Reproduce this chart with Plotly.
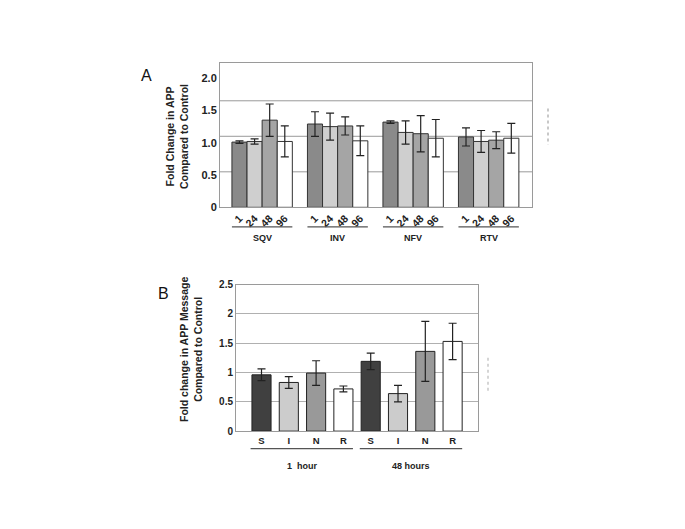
import plotly.graph_objects as go

# ---------------- Data ----------------
# Panel A
a_drugs = ["SQV", "INV", "NFV", "RTV"]
a_times = ["1", "24", "48", "96"]
a_values = {
    "1":  [1.01, 1.29, 1.32, 1.09],
    "24": [1.02, 1.25, 1.16, 1.02],
    "48": [1.35, 1.26, 1.14, 1.04],
    "96": [1.02, 1.03, 1.07, 1.07],
}
a_errors = {
    "1":  [0.02, 0.19, 0.02, 0.14],
    "24": [0.04, 0.21, 0.18, 0.17],
    "48": [0.25, 0.14, 0.28, 0.13],
    "96": [0.24, 0.23, 0.29, 0.23],
}
a_colors = {"1": "#8a8a8a", "24": "#cfcfcf", "48": "#a5a5a5", "96": "#ffffff"}
a_tickvals = [0, 0.5, 1.0, 1.5, 2.0]
a_ticktext = ["0", "0.5", "1.0", "1.5", "2.0"]
a_grid_levels = [0.55, 1.1, 1.65]

# Panel B
b_groups = ["1  hour", "48 hours"]
b_labels = ["S", "I", "N", "R"]
b_values = [0.96, 0.83, 0.99, 0.72, 1.19, 0.64, 1.36, 1.53]
b_errors = [0.10, 0.10, 0.21, 0.05, 0.14, 0.14, 0.51, 0.31]
b_colors = ["#404040", "#cccccc", "#999999", "#ffffff"]
b_tickvals = [0, 0.5, 1, 1.5, 2, 2.5]

FONT = "Arial, Liberation Sans, sans-serif"
W, H = 685, 529

fig = go.Figure()

# ---------- Panel A bars ----------
slots_per_group = len(a_times) + 1
a_positions_all = []
a_ticklabels_all = []
for j, t in enumerate(a_times):
    xs = [g * slots_per_group + j for g in range(len(a_drugs))]
    fig.add_trace(go.Bar(
        x=xs, y=a_values[t], width=1.0,
        marker=dict(color=a_colors[t], line=dict(color="#333333", width=1)),
        error_y=dict(type="data", array=a_errors[t], color="#222222",
                     thickness=1.2, width=4),
        xaxis="x", yaxis="y", showlegend=False,
    ))
for g in range(len(a_drugs)):
    for j, t in enumerate(a_times):
        a_positions_all.append(g * slots_per_group + j)
        a_ticklabels_all.append(t)

# ---------- Panel B bars ----------
b_x = list(range(len(b_values)))
b_bar_colors = [b_colors[i % len(b_colors)] for i in b_x]
b_ticktext = [b_labels[i % len(b_labels)] for i in b_x]
fig.add_trace(go.Bar(
    x=b_x, y=b_values, width=0.7,
    marker=dict(color=b_bar_colors, line=dict(color="#222222", width=1)),
    error_y=dict(type="data", array=b_errors, color="#222222",
                 thickness=1.2, width=4),
    xaxis="x2", yaxis="y2", showlegend=False,
))

shapes = []
annotations = []


def ann(**kw):
    kw.setdefault("xanchor", "center")
    kw.setdefault("yanchor", "middle")
    kw.setdefault("showarrow", False)
    annotations.append(kw)


# gridlines for panel A (drawn as in the original figure)
for lv in a_grid_levels:
    shapes.append(dict(type="line", xref="x domain", yref="y", x0=0, x1=1,
                       y0=lv, y1=lv, line=dict(color="#9a9a9a", width=1),
                       layer="below"))

# group lines + labels for panel A
for g, name in enumerate(a_drugs):
    x0 = g * slots_per_group - 0.5
    x1 = g * slots_per_group + len(a_times) - 0.5
    shapes.append(dict(type="line", xref="x", yref="paper", x0=x0, x1=x1,
                       y0=(H - 226) / H, y1=(H - 226) / H,
                       line=dict(color="#555555", width=1.3)))
    ann(x=(x0 + x1) / 2, y=(H - 237) / H, xref="x", yref="paper",
        text="<b>%s</b>" % name,
        font=dict(size=9, color="#222222", family=FONT))

# group lines + labels for panel B
for gi, name in enumerate(b_groups):
    x0 = gi * len(b_labels) - 0.4
    x1 = gi * len(b_labels) + len(b_labels) - 1 + 0.35
    shapes.append(dict(type="line", xref="x2", yref="paper", x0=x0, x1=x1,
                       y0=(H - 453) / H, y1=(H - 453) / H,
                       line=dict(color="#555555", width=1.2)))
    ann(x=(x0 + x1) / 2, y=(H - 471) / H, xref="x2", yref="paper",
        text="<b>%s</b>" % name,
        font=dict(size=9, color="#222222", family=FONT))

# faint dotted legend remnants
shapes.append(dict(type="line", xref="paper", yref="paper", x0=548 / W, x1=548 / W,
                   y0=(H - 105) / H, y1=(H - 142) / H,
                   line=dict(color="#c8c8c8", width=2, dash="dot")))
shapes.append(dict(type="line", xref="paper", yref="paper", x0=488 / W, x1=488 / W,
                   y0=(H - 360) / H, y1=(H - 394) / H,
                   line=dict(color="#c8c8c8", width=1.5, dash="dot")))

# panel letters
ann(x=146 / W, y=(H - 71) / H, xref="paper", yref="paper", text="A",
    font=dict(size=16, color="#111111", family=FONT))
ann(x=163 / W, y=(H - 294) / H, xref="paper", yref="paper", text="B",
    font=dict(size=16, color="#111111", family=FONT))

# y titles
ann(x=177 / W, y=(H - 134) / H, xref="paper", yref="paper",
    text="<b>Fold Change in APP<br>Compared to Control</b>", textangle=-90,
    font=dict(size=10.5, color="#222222", family=FONT))
ann(x=191 / W, y=(H - 352) / H, xref="paper", yref="paper",
    text="<b>Fold change in APP Message<br>Compared to Control</b>", textangle=-90,
    font=dict(size=10.5, color="#222222", family=FONT))

fig.update_layout(
    width=W, height=H, autosize=False,
    margin=dict(l=0, r=0, t=0, b=0),
    paper_bgcolor="white", plot_bgcolor="white",
    font=dict(family=FONT, color="#222222"),
    barmode="overlay",
    shapes=shapes, annotations=annotations,
    xaxis=dict(domain=[220 / W, 532 / W], range=[-1.29, 19.37],
               tickmode="array", tickvals=a_positions_all,
               ticktext=["<b>%s</b>" % t for t in a_ticklabels_all],
               tickangle=-45, tickfont=dict(size=10.5, color="#222222"),
               showline=True, linecolor="#9a9a9a", mirror=True,
               showgrid=False, zeroline=False, ticks="", anchor="y"),
    yaxis=dict(domain=[(H - 206) / H, (H - 58) / H], range=[0, 2.24],
               tickmode="array", tickvals=a_tickvals,
               ticktext=["<b>%s</b>" % t for t in a_ticktext],
               tickfont=dict(size=11, color="#222222"),
               showline=True, linecolor="#9a9a9a", mirror=True,
               showgrid=False, zeroline=False, ticks="", anchor="x"),
    xaxis2=dict(domain=[236 / W, 478 / W], range=[-0.934, 7.93],
                tickmode="array", tickvals=b_x,
                ticktext=["<b>%s</b>" % t for t in b_ticktext],
                tickangle=0, tickfont=dict(size=9.5, color="#222222"),
                showline=True, linecolor="#9a9a9a", mirror=True,
                showgrid=False, zeroline=False, ticks="", anchor="y2"),
    yaxis2=dict(domain=[(H - 435) / H, (H - 285) / H], range=[0, 2.5],
                tickmode="array", tickvals=b_tickvals,
                ticktext=["<b>%s</b>" % t for t in b_tickvals],
                tickfont=dict(size=10, color="#222222"),
                showline=True, linecolor="#9a9a9a", mirror=True,
                showgrid=True, gridcolor="#b0b0b0", zeroline=False,
                ticks="", anchor="x2"),
)

fig.write_html("out.html", config={"displayModeBar": False},
               post_script="document.body.style.margin='0';document.body.style.overflow='hidden';")
